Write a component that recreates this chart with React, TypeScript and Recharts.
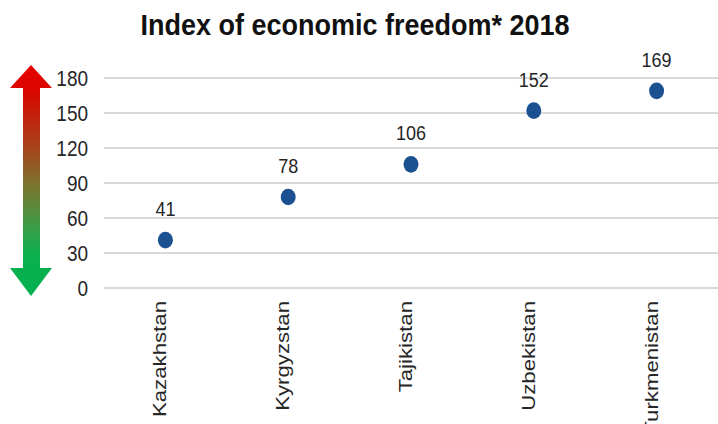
import React from 'react';
import { ComposedChart, Line, XAxis, YAxis, CartesianGrid, LabelList } from 'recharts';

const countries = ['Kazakhstan', 'Kyrgyzstan', 'Tajikistan', 'Uzbekistan', 'Turkmenistan'];
const ranks = [41, 78, 106, 152, 169];
const yTicks = [0, 30, 60, 90, 120, 150, 180];
const title = 'Index of economic freedom* 2018';

const data = countries.map((c, i) => ({ country: c, rank: ranks[i] }));

const SY = 1.17;
const FONT = '"Liberation Sans", Arial, Helvetica, sans-serif';
const TXT = '#262626';
const DOT = '#1c5191';

const XTick = (props: any) => {
  const { x, y, payload } = props;
  return (
    <text
      transform={`translate(${x + 1},${y}) scale(1,${SY}) rotate(-90)`}
      textAnchor="end"
      fontSize={19}
      fontFamily={FONT}
      fill={TXT}
    >
      {payload.value}
    </text>
  );
};

const YTick = (props: any) => {
  const { x, y, payload } = props;
  return (
    <text
      transform={`translate(${x},${y}) scale(1,${SY})`}
      y={6.5}
      textAnchor="end"
      fontSize={19}
      fontFamily={FONT}
      fill={TXT}
    >
      {payload.value}
    </text>
  );
};

const Dot = (props: any) => {
  const { cx, cy } = props;
  if (cx == null || cy == null) return null;
  return <ellipse cx={cx} cy={cy} rx={7.5} ry={8.3} fill={DOT} />;
};

const ValueLabel = (props: any) => {
  const { x, y, value } = props;
  return (
    <text
      transform={`translate(${x},${y - 24}) scale(1,${SY})`}
      textAnchor="middle"
      fontSize={18}
      fontFamily={FONT}
      fill={TXT}
    >
      {value}
    </text>
  );
};

export default function App() {
  return (
    <div
      style={{
        position: 'absolute',
        left: 0,
        top: 0,
        width: 718,
        height: 424,
        overflow: 'hidden',
        background: '#fff',
      }}
    >
      <svg width={718} height={424} style={{ position: 'absolute', left: 0, top: 0 }}>
        <defs>
          <linearGradient id="arrowGrad" x1="0" y1="0" x2="0" y2="1">
            <stop offset="0%" stopColor="#e60000" />
            <stop offset="12%" stopColor="#d80800" />
            <stop offset="35%" stopColor="#a8421a" />
            <stop offset="52%" stopColor="#7c7430" />
            <stop offset="70%" stopColor="#3c9c46" />
            <stop offset="82%" stopColor="#0cb04e" />
            <stop offset="100%" stopColor="#00b050" />
          </linearGradient>
        </defs>
        <polygon
          points="31,65 52,88 40,88 40,268 52,268 31,296 10,268 23,268 23,88 10,88"
          fill="url(#arrowGrad)"
        />
        <text
          transform={`translate(355,35) scale(1,1.1)`}
          textAnchor="middle"
          fontSize={27}
          fontWeight="bold"
          fontFamily={FONT}
          fill="#111"
        >
          {title}
        </text>
      </svg>
      <div style={{ position: 'absolute', left: 0, top: 0 }}>
        <ComposedChart
          width={718}
          height={424}
          data={data}
          margin={{ top: 78, right: 0, bottom: 0, left: 0 }}
        >
          <CartesianGrid vertical={false} stroke="#d9d9d9" strokeWidth={2} />
          <XAxis
            dataKey="country"
            type="category"
            scale="band"
            axisLine={false}
            tickLine={false}
            tickSize={0}
            tickMargin={13}
            height={136}
            interval={0}
            tick={<XTick />}
          />
          <YAxis
            domain={[0, 180]}
            ticks={yTicks}
            axisLine={false}
            tickLine={false}
            tickSize={0}
            tickMargin={16}
            width={104}
            interval={0}
            tick={<YTick />}
          />
          <Line
            dataKey="rank"
            stroke="none"
            isAnimationActive={false}
            dot={<Dot />}
            activeDot={false}
          >
            <LabelList dataKey="rank" content={<ValueLabel />} />
          </Line>
        </ComposedChart>
      </div>
    </div>
  );
}
